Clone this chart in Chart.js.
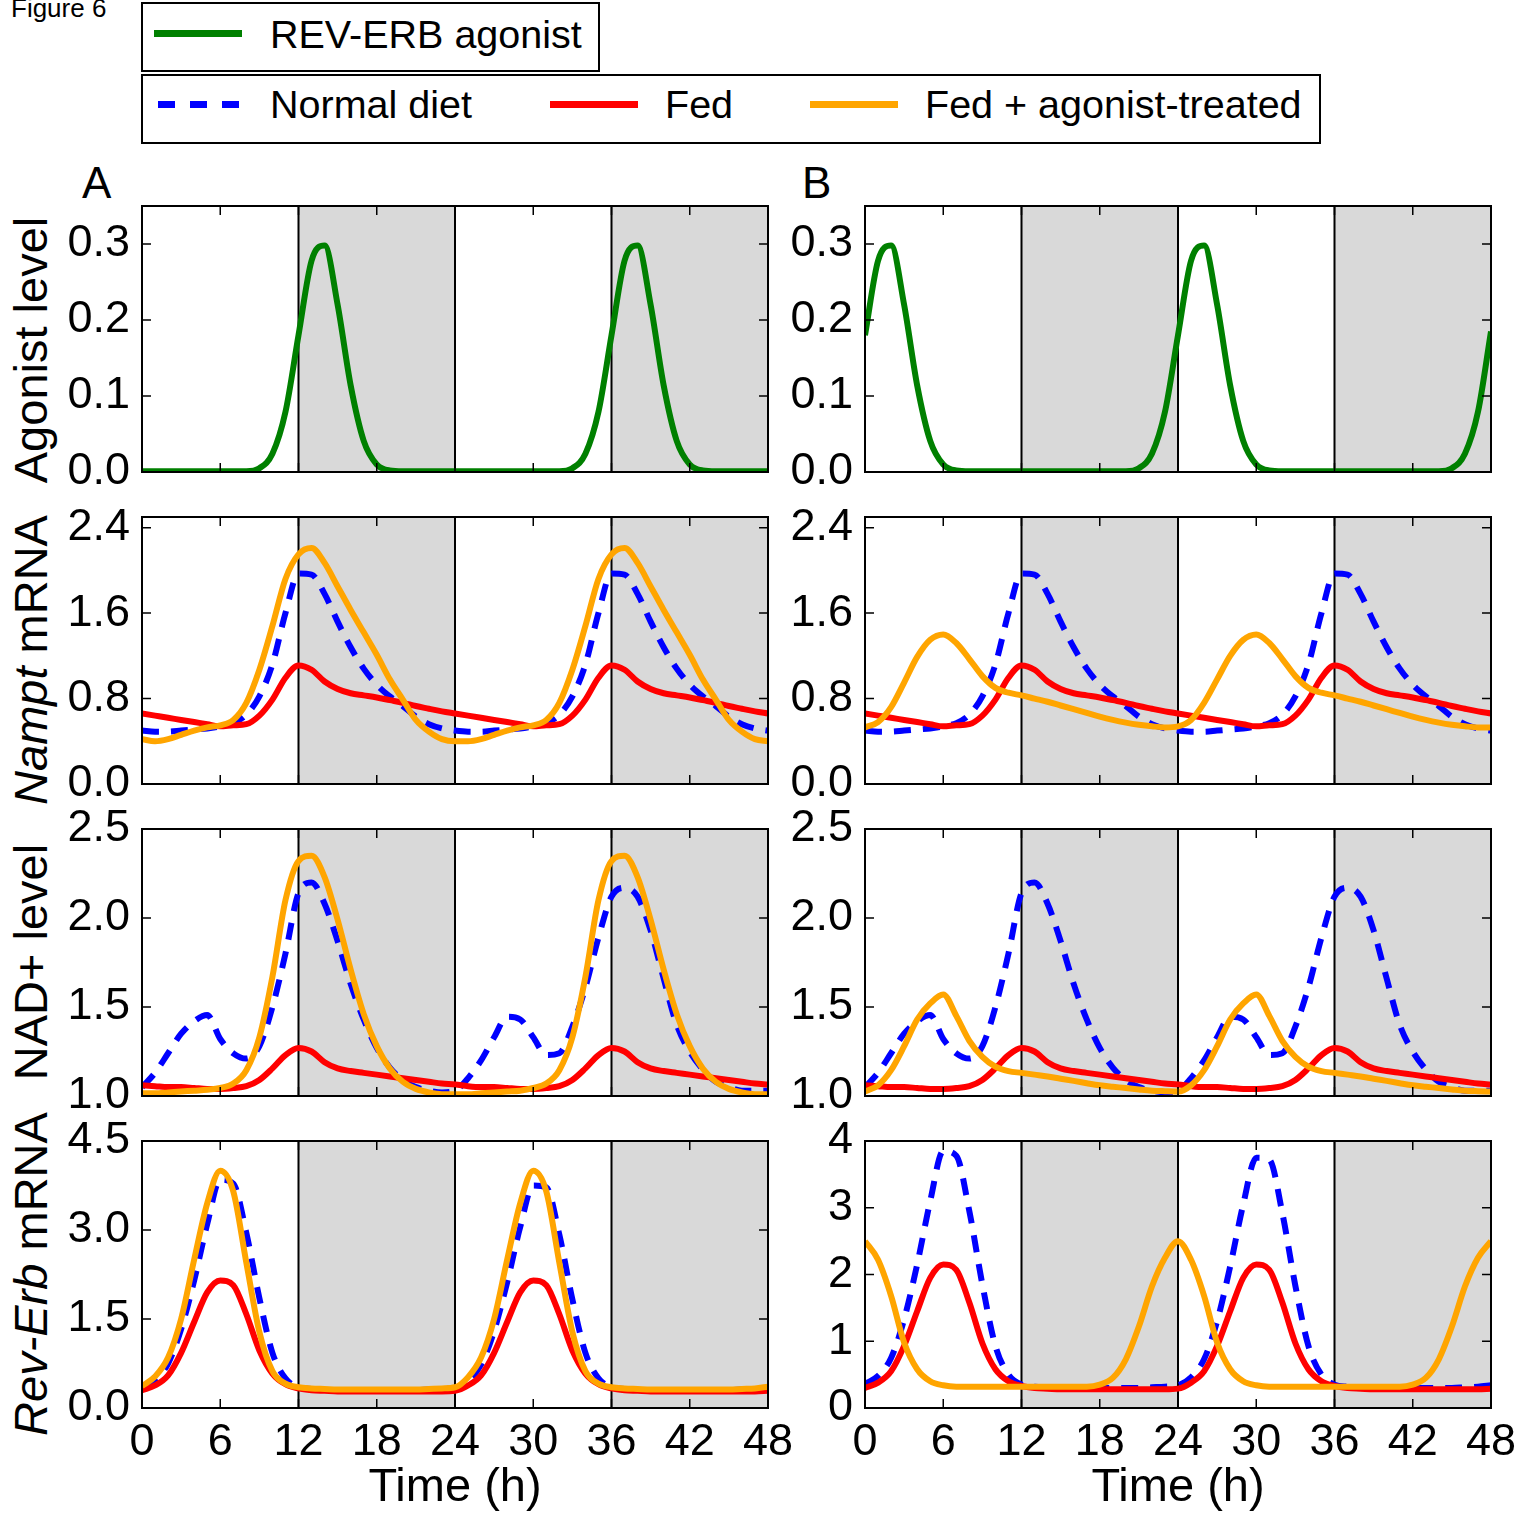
<!DOCTYPE html>
<html lang="en">
<head>
<meta charset="UTF-8">
<title>Figure 6</title>
<script src="https://cdn.jsdelivr.net/npm/chart.js"></script>
<style>
  body { margin: 0; background: #fff; overflow: hidden; font-family: "Liberation Sans", Arial, sans-serif; color: #000; }
  #page { position: relative; width: 1524px; height: 1513px; overflow: hidden; }
  .txt { position: absolute; white-space: nowrap; line-height: 1; }
  .box { position: absolute; border: 2px solid #000; box-sizing: border-box; }
  .swatch { position: absolute; height: 7px; }
  .ytitle { position: absolute; font-size: 47px; line-height: 1; white-space: nowrap; transform: translate(-50%, -50%) rotate(-90deg); }
  canvas { position: absolute; }
</style>
</head>
<body>
<div id="page">
  <div class="txt" style="left:11px;top:-5px;font-size:26px">Figure 6</div>

  <div class="box" style="left:141px;top:2px;width:459px;height:70px"></div>
  <div class="swatch" style="left:154px;top:30px;width:88px;background:#008000"></div>
  <div class="txt" style="left:270px;top:15px;font-size:39.5px">REV-ERB agonist</div>

  <div class="box" style="left:141px;top:74px;width:1180px;height:70px"></div>
  <div class="swatch" style="left:158px;top:101px;width:84px;background:repeating-linear-gradient(to right,#0000ff 0 17px,transparent 17px 32px)"></div>
  <div class="txt" style="left:270px;top:85px;font-size:39.5px">Normal diet</div>
  <div class="swatch" style="left:550px;top:101px;width:88px;background:#ff0000"></div>
  <div class="txt" style="left:665px;top:85px;font-size:39.5px">Fed</div>
  <div class="swatch" style="left:810px;top:101px;width:88px;background:#ffa500"></div>
  <div class="txt" style="left:925px;top:85px;font-size:39.5px">Fed + agonist-treated</div>

  <div class="txt" style="left:82px;top:161px;font-size:44px">A</div>
  <div class="txt" style="left:802px;top:161px;font-size:44px">B</div>

  <div class="ytitle" style="left:30px;top:350px">Agonist level</div>
  <div class="ytitle" style="left:30px;top:660px"><i>Nampt</i> mRNA</div>
  <div class="ytitle" style="left:30px;top:962px">NAD+ level</div>
  <div class="ytitle" style="left:30px;top:1274px"><i>Rev-Erb</i> mRNA</div>
</div>

<script>
// time grid (h) and axis ticks
const hours = [0,1,2,3,4,5,6,7,8,9,10,11,12,13,14,15,16,17,18,19,20,21,22,23,24,
               25,26,27,28,29,30,31,32,33,34,35,36,37,38,39,40,41,42,43,44,45,46,47,48];
const xTicks = [0, 6, 12, 18, 24, 30, 36, 42, 48];
const nightBands = [[12, 24], [36, 48]];
const dayLines = [12, 24, 36];

const agonistTicks = [0, 0.1, 0.2, 0.3];
const namptTicks = [0, 0.8, 1.6, 2.4];
const nadTicks = [1.0, 1.5, 2.0, 2.5];
const revTicksA = [0, 1.5, 3.0, 4.5];
const revTicksB = [0, 1, 2, 3, 4];

// row 1: agonist level
const agonistA = [0.001,0.001,0.001,0.001,0.001,0.001,0.001,0.001,0.001,0.005,0.024,0.079,0.18,0.278,0.298,0.22,0.114,0.041,0.01,0.002,
                  0.001,0.001,0.001,0.001,0.001,0.001,0.001,0.001,0.001,0.001,0.001,0.001,
                  0.001,0.005,0.024,0.079,0.18,0.278,0.298,0.22,0.114,0.041,0.01,0.002,0.001,0.001,0.001,0.001,0.001];
const agonistB = [0.18,0.278,0.298,0.22,0.114,0.041,0.01,0.002,
                  0.001,0.001,0.001,0.001,0.001,0.001,0.001,0.001,0.001,0.001,0.001,0.001,0.001,
                  0.005,0.024,0.079,0.18,0.278,0.298,0.22,0.114,0.041,0.01,0.002,
                  0.001,0.001,0.001,0.001,0.001,0.001,0.001,0.001,0.001,0.001,0.001,0.001,0.001,
                  0.005,0.024,0.079,0.185];

// row 2: Nampt mRNA
const namptNormal = [0.50,0.49,0.49,0.50,0.51,0.52,0.54,0.57,0.65,0.82,1.12,1.60,1.97,1.96,1.78,1.52,1.28,1.08,0.93,0.82,0.73,0.63,0.56,0.52,0.50,
                     0.49,0.49,0.50,0.51,0.52,0.54,0.57,0.65,0.82,1.12,1.60,1.97,1.96,1.78,1.52,1.28,1.08,0.93,0.82,0.73,0.63,0.56,0.52,0.50];
const namptFed = [0.66,0.64,0.62,0.60,0.58,0.56,0.54,0.55,0.56,0.64,0.79,0.995,1.11,1.07,0.96,0.89,0.85,0.83,0.81,0.785,0.76,0.73,0.705,0.68,0.66,
                  0.64,0.62,0.60,0.58,0.56,0.54,0.55,0.56,0.64,0.79,0.995,1.11,1.07,0.96,0.89,0.85,0.83,0.81,0.785,0.76,0.73,0.705,0.68,0.66];
const namptAgoA = [0.42,0.40,0.42,0.46,0.50,0.53,0.55,0.60,0.76,1.07,1.48,1.92,2.15,2.21,2.07,1.85,1.63,1.42,1.21,0.98,0.79,0.60,0.49,0.42,0.40,
                   0.40,0.42,0.46,0.50,0.53,0.55,0.60,0.76,1.07,1.48,1.92,2.15,2.21,2.07,1.85,1.63,1.42,1.21,0.98,0.79,0.60,0.49,0.42,0.40];
const namptAgoB = [0.53,0.58,0.72,0.95,1.19,1.35,1.40,1.32,1.17,1.01,0.90,0.855,0.83,0.80,0.77,0.735,0.70,0.665,0.63,0.60,0.575,0.555,0.54,0.53,0.54,
                   0.60,0.76,0.98,1.20,1.35,1.40,1.32,1.17,1.01,0.90,0.855,0.83,0.80,0.77,0.735,0.70,0.665,0.63,0.60,0.575,0.555,0.54,0.53,0.53];

// row 3: NAD+ level
const nadNormal = [1.05,1.13,1.24,1.35,1.42,1.455,1.32,1.24,1.21,1.28,1.50,1.80,2.14,2.20,2.08,1.87,1.63,1.43,1.27,1.16,1.09,1.05,1.03,1.02,1.03,
                   1.10,1.20,1.33,1.445,1.43,1.33,1.23,1.24,1.39,1.61,1.89,2.12,2.17,2.12,1.93,1.66,1.40,1.25,1.15,1.08,1.05,1.03,1.03,1.03];
const nadFed = [1.06,1.055,1.05,1.05,1.045,1.04,1.04,1.045,1.055,1.09,1.155,1.23,1.27,1.25,1.19,1.155,1.14,1.13,1.12,1.11,1.10,1.09,1.08,1.07,1.065,
                1.055,1.05,1.05,1.045,1.04,1.04,1.045,1.055,1.09,1.155,1.23,1.27,1.25,1.19,1.155,1.14,1.13,1.12,1.11,1.10,1.09,1.08,1.07,1.065];
const nadAgoA = [1.015,1.015,1.02,1.025,1.03,1.035,1.045,1.07,1.145,1.33,1.67,2.10,2.32,2.35,2.23,1.99,1.71,1.46,1.28,1.155,1.08,1.04,1.02,1.01,1.01,
                 1.01,1.015,1.02,1.025,1.03,1.045,1.07,1.145,1.33,1.67,2.10,2.32,2.35,2.23,1.99,1.71,1.46,1.28,1.155,1.08,1.04,1.02,1.01,1.01];
const nadAgoB = [1.025,1.06,1.145,1.28,1.43,1.52,1.57,1.45,1.31,1.22,1.165,1.14,1.13,1.12,1.11,1.097,1.085,1.072,1.06,1.052,1.045,1.037,1.03,1.027,1.025,
                 1.06,1.145,1.28,1.43,1.52,1.57,1.45,1.31,1.22,1.165,1.14,1.13,1.12,1.11,1.097,1.085,1.072,1.06,1.052,1.045,1.037,1.03,1.027,1.025];

// row 4: Rev-Erb mRNA
const revNormal = [0.36,0.48,0.75,1.33,2.15,3.10,3.85,3.78,2.95,1.85,0.93,0.50,0.35,0.32,0.31,0.30,0.30,0.30,0.30,0.30,0.30,0.30,0.31,0.32,0.34,
                   0.46,0.73,1.30,2.12,3.05,3.75,3.72,2.92,1.83,0.93,0.50,0.35,0.32,0.31,0.30,0.30,0.30,0.30,0.30,0.30,0.30,0.31,0.32,0.34];
const revFed = [0.30,0.38,0.55,0.93,1.45,1.95,2.15,2.07,1.58,0.97,0.58,0.40,0.33,0.30,0.29,0.28,0.28,0.28,0.28,0.28,0.28,0.28,0.28,0.28,0.29,
                0.38,0.55,0.93,1.45,1.95,2.15,2.07,1.58,0.97,0.58,0.40,0.33,0.30,0.29,0.28,0.28,0.28,0.28,0.28,0.28,0.28,0.28,0.28,0.29];
const revAgoA = [0.37,0.53,0.85,1.50,2.50,3.45,4.00,3.65,2.45,1.28,0.62,0.41,0.35,0.33,0.32,0.31,0.31,0.31,0.31,0.31,0.31,0.31,0.32,0.33,0.35,
                 0.52,0.85,1.50,2.50,3.45,4.00,3.65,2.45,1.28,0.62,0.41,0.35,0.33,0.32,0.31,0.31,0.31,0.31,0.31,0.31,0.31,0.32,0.33,0.36];
const revAgoB = [2.50,2.22,1.68,0.98,0.58,0.40,0.34,0.32,0.32,0.32,0.32,0.32,0.32,0.32,0.32,0.32,0.32,0.32,0.35,0.45,0.73,1.22,1.82,2.25,2.50,
                 2.22,1.68,0.98,0.58,0.40,0.34,0.32,0.32,0.32,0.32,0.32,0.32,0.32,0.32,0.32,0.32,0.32,0.35,0.45,0.73,1.22,1.82,2.25,2.50];

// panel placement on the page (plot area edges, px)
const colLeft = [142, 865], colRight = [768, 1491];
const rowTop = [206, 517, 829, 1141], rowBottom = [472, 784, 1096, 1408];
const MARGIN = 45;

const GREEN = '#008000', BLUE = '#0000ff', RED = '#ff0000', ORANGE = '#ffa500';
const FONT = '"Liberation Sans", Arial, sans-serif';

Chart.defaults.font.family = FONT;
Chart.defaults.color = '#000';

const panelDecor = {
  id: 'panelDecor',
  beforeDatasetsDraw(chart) {
    const { ctx, chartArea: a, scales: { x } } = chart;
    ctx.save();
    ctx.fillStyle = '#d9d9d9';
    nightBands.forEach(([s, e]) => {
      const x0 = x.getPixelForValue(s), x1 = x.getPixelForValue(e);
      ctx.fillRect(x0, a.top, x1 - x0, a.bottom - a.top);
    });
    ctx.strokeStyle = '#000';
    ctx.lineWidth = 2;
    dayLines.forEach(h => {
      const px = x.getPixelForValue(h);
      ctx.beginPath(); ctx.moveTo(px, a.top); ctx.lineTo(px, a.bottom); ctx.stroke();
    });
    ctx.restore();
  },
  afterDatasetsDraw(chart) {
    const { ctx, chartArea: a, scales: { x, y } } = chart;
    ctx.save();
    ctx.strokeStyle = '#000';
    ctx.lineWidth = 1.5;
    ctx.beginPath();
    xTicks.forEach(v => {
      const px = x.getPixelForValue(v);
      ctx.moveTo(px, a.top); ctx.lineTo(px, a.top + 9);
      ctx.moveTo(px, a.bottom); ctx.lineTo(px, a.bottom - 9);
    });
    y.ticks.forEach(t => {
      const py = y.getPixelForValue(t.value);
      ctx.moveTo(a.left, py); ctx.lineTo(a.left + 9, py);
      ctx.moveTo(a.right, py); ctx.lineTo(a.right - 9, py);
    });
    ctx.stroke();
    ctx.lineWidth = 2;
    ctx.strokeRect(a.left, a.top, a.right - a.left, a.bottom - a.top);
    ctx.restore();
  }
};

function line(values, color, dashed) {
  return {
    data: hours.map((h, i) => ({ x: h, y: values[i] })),
    borderColor: color,
    borderWidth: 6,
    borderDash: dashed ? [17, 12] : [],
    borderCapStyle: 'butt',
    pointRadius: 0,
    clip: 0,
    cubicInterpolationMode: 'monotone'
  };
}

function drawPanel(col, row, datasets, yMin, yMax, yTicks, digits) {
  const isBottom = row === 3;
  const px0 = colLeft[col], px1 = colRight[col], py0 = rowTop[row], py1 = rowBottom[row];
  const canvas = document.createElement('canvas');
  canvas.width = 110 + (px1 - px0) + 40;
  canvas.height = MARGIN + (py1 - py0) + (isBottom ? 104 : MARGIN);
  canvas.style.left = (px0 - 110) + 'px';
  canvas.style.top = (py0 - MARGIN) + 'px';
  document.getElementById('page').appendChild(canvas);

  // last dataset in the list is drawn on top
  datasets.forEach((d, i) => { d.order = datasets.length - 1 - i; });

  new Chart(canvas, {
    type: 'line',
    data: { datasets },
    options: {
      responsive: false,
      animation: false,
      devicePixelRatio: 1,
      layout: { padding: { top: MARGIN, right: 40, bottom: isBottom ? 0 : MARGIN, left: 0 } },
      plugins: { legend: { display: false }, tooltip: { enabled: false } },
      scales: {
        x: {
          type: 'linear', min: 0, max: 48, display: isBottom,
          grid: { display: false, drawTicks: false },
          border: { display: false },
          ticks: { autoSkip: false, maxRotation: 0, padding: 8, font: { size: 45 }, color: '#000' },
          afterBuildTicks: s => { s.ticks = xTicks.map(v => ({ value: v })); },
          afterFit: s => { if (isBottom) s.height = 104; },
          title: { display: true, text: 'Time (h)', font: { size: 47, lineHeight: 1 }, padding: 0, color: '#000' }
        },
        y: {
          type: 'linear', min: yMin, max: yMax,
          grid: { display: false, drawTicks: false },
          border: { display: false },
          ticks: { padding: 12, font: { size: 45 }, color: '#000', callback: v => Number(v).toFixed(digits) },
          afterBuildTicks: s => { s.ticks = yTicks.map(v => ({ value: v })); },
          afterFit: s => { s.width = 110; }
        }
      }
    },
    plugins: [panelDecor]
  });
}

// column A
drawPanel(0, 0, [line(agonistA, GREEN)], 0, 0.35, agonistTicks, 1);
drawPanel(0, 1, [line(namptNormal, BLUE, true), line(namptFed, RED), line(namptAgoA, ORANGE)], 0, 2.5, namptTicks, 1);
drawPanel(0, 2, [line(nadNormal, BLUE, true), line(nadFed, RED), line(nadAgoA, ORANGE)], 1.0, 2.5, nadTicks, 1);
drawPanel(0, 3, [line(revNormal, BLUE, true), line(revFed, RED), line(revAgoA, ORANGE)], 0, 4.5, revTicksA, 1);

// column B
drawPanel(1, 0, [line(agonistB, GREEN)], 0, 0.35, agonistTicks, 1);
drawPanel(1, 1, [line(namptNormal, BLUE, true), line(namptFed, RED), line(namptAgoB, ORANGE)], 0, 2.5, namptTicks, 1);
drawPanel(1, 2, [line(nadNormal, BLUE, true), line(nadFed, RED), line(nadAgoB, ORANGE)], 1.0, 2.5, nadTicks, 1);
drawPanel(1, 3, [line(revNormal, BLUE, true), line(revFed, RED), line(revAgoB, ORANGE)], 0, 4, revTicksB, 0);
</script>
</body>
</html>
